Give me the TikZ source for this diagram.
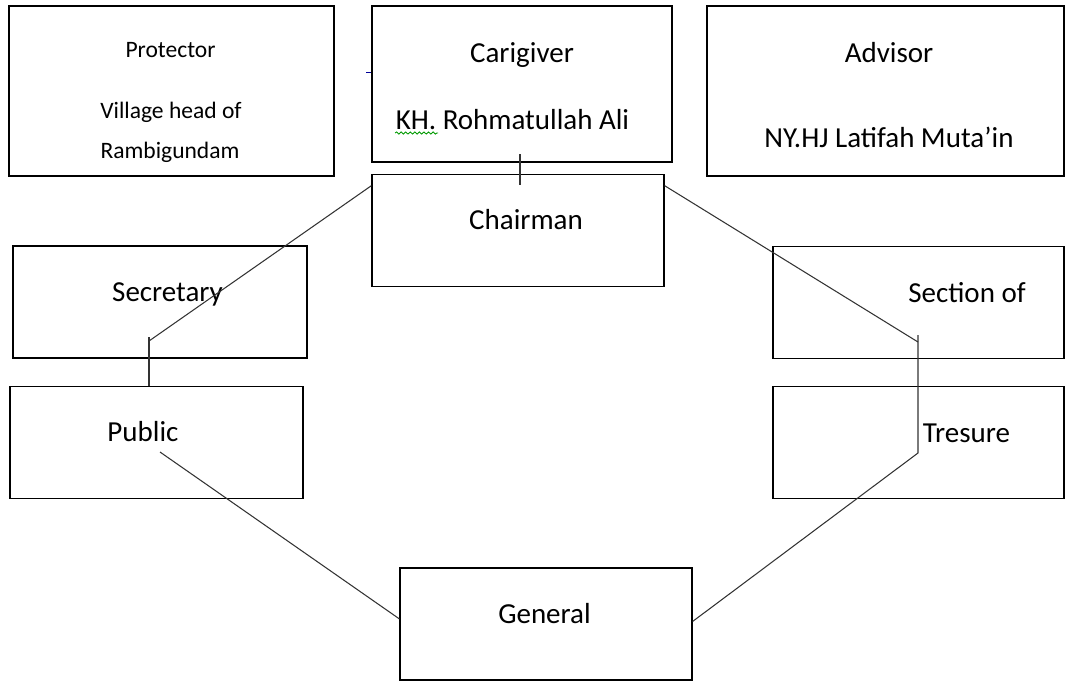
\documentclass[tikz,border=0pt]{standalone}
\usepackage{fontspec}
\setmainfont{Carlito}
\usetikzlibrary{calc,decorations.pathmorphing}

\begin{document}
\begin{tikzpicture}[x=0.02cm, y=-0.02cm, line width=0.75pt,
  box/.style={rectangle, draw=black, minimum width=5.84cm, minimum height=2.24cm, inner sep=0pt},
  lbl/.style={anchor=base, inner sep=0pt, font=\fontsize{16.5}{20}\selectfont},
  smalllbl/.style={anchor=base, inner sep=0pt, font=\fontsize{13.4}{16}\selectfont},
  link/.style={draw=black!80, line width=0.6pt}]

  \useasboundingbox (0,0) rectangle (1065,681);

  % top row
  \node[box, minimum width=6.5cm, minimum height=3.4cm] (protector) at (171.5,91) {};
  \node[box, minimum width=6cm, minimum height=3.12cm] (carigiver) at (522,84) {};
  \node[box, minimum width=7.14cm, minimum height=3.4cm] (advisor) at (885.5,91) {};

  \node[smalllbl] (protectorT) at (170.5,57) {Protector};
  \node[smalllbl] (protectorA) at (171,118) {Village head of};
  \node[smalllbl] (protectorB) at (170,158) {Rambigundam};
  \node[lbl] (carigiverT) at (522,62) {Carigiver};
  \node[lbl] (kh) at (512.5,129) {KH. Rohmatullah Ali};
  \node[lbl] (advisorT) at (889,62) {Advisor};
  \node[lbl] (advisorA) at (889,147) {NY.HJ Latifah Muta’in};

  % rest of the chart
  \node[box] (chairman) at (518,230.5) {};
  \node[box, minimum width=5.88cm] (secretary) at (160,302) {};
  \node[box, minimum width=5.86cm] (public) at (156.5,442.5) {};
  \node[box, minimum width=5.82cm] (section) at (918.5,302.5) {};
  \node[box, minimum width=5.82cm] (tresure) at (918.5,442.5) {};
  \node[box] (general) at (546,624) {};

  \node[lbl] (chairmanT) at (526,229) {Chairman};
  \node[lbl] (secretaryT) at (167.5,301) {Secretary};
  \node[lbl] (publicT) at (143,441) {Public};
  \node[lbl] (sectionT) at (967,302) {Section of};
  \node[lbl] (tresureT) at (966.5,442) {Tresure};
  \node[lbl] (generalT) at (544.5,623) {General};

  \draw[green!60!black, line width=0.5pt, decorate,
        decoration={snake, amplitude=0.6pt, segment length=2.6pt}]
    ($(kh.base west)+(0,4)$) -- ++(43,0);

  \coordinate (stray) at (366,72);
  \coordinate (ticktop) at (520,154);
  \coordinate (tickfoot) at (520,185);
  \coordinate (secbend) at (149,341);
  \coordinate (tresbend) at (918,342);
  \coordinate (tresfoot) at (918,453);
  \coordinate (pubfoot) at (160,452);

  \draw[blue!60!black, line width=0.5pt] (stray) -- (stray -| carigiver.west);
  \draw[link] (ticktop) -- (tickfoot);
  \draw[link] (chairman.163) -- (secbend);
  \draw[link] ($(secbend)+(0,-4)$) -- (secbend |- public.north);
  \draw[link] (chairman.17) -- (tresbend);
  \draw[link] ($(tresbend)+(0,-7)$) -- (tresfoot) -- (general.1.5);
  \draw[link] (pubfoot) -- (general.178.5);

\end{tikzpicture}
\end{document}
